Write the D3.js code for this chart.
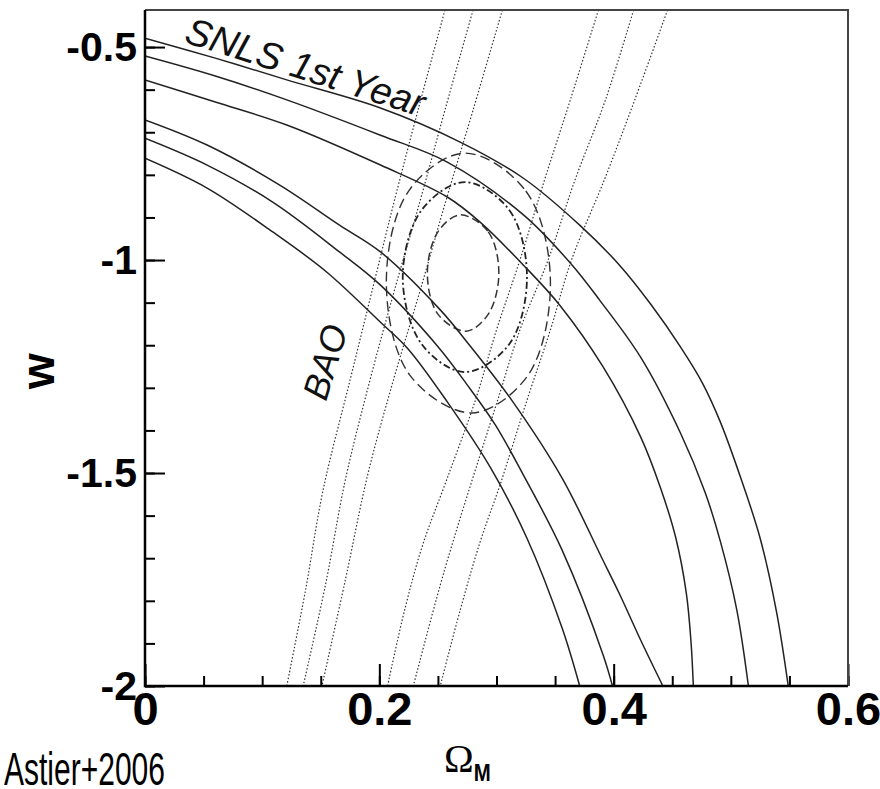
<!DOCTYPE html>
<html>
<head>
<meta charset="utf-8">
<script src="https://cdn.jsdelivr.net/npm/d3@7"></script>
<style>
  body { margin: 0; background: #fff; }
  svg { display: block; }
</style>
</head>
<body>
<script>
// axis ticks and labels
var xTicks = [0, 0.2, 0.4, 0.6];
var xTickLabels = ["0", "0.2", "0.4", "0.6"];
var yTicks = [-2, -1.5, -1, -0.5];
var yTickLabels = ["-2", "-1.5", "-1", "-0.5"];
var xMinorStep = 0.05, yMinorStep = 0.1;

// SNLS 1st year contours [Omega_M, w] (upper and lower branch of each level)
var snls68Hi = [[0,-0.577],[0.060,-0.629],[0.121,-0.683],[0.201,-0.777],[0.258,-0.852],[0.286,-0.911],[0.323,-1.012],[0.354,-1.106],[0.391,-1.251],[0.423,-1.415],[0.440,-1.535],[0.453,-1.652],[0.462,-1.782],[0.466,-1.896],[0.468,-2.0]];
var snls95Hi = [[0,-0.521],[0.060,-0.568],[0.121,-0.624],[0.201,-0.707],[0.258,-0.770],[0.323,-0.894],[0.363,-1.007],[0.388,-1.094],[0.423,-1.228],[0.457,-1.406],[0.478,-1.545],[0.491,-1.660],[0.505,-1.820],[0.515,-2.0]];
var snls99Hi = [[0,-0.479],[0.060,-0.526],[0.121,-0.577],[0.201,-0.643],[0.269,-0.723],[0.323,-0.808],[0.371,-0.918],[0.405,-1.012],[0.432,-1.105],[0.457,-1.204],[0.476,-1.290],[0.491,-1.380],[0.509,-1.516],[0.525,-1.653],[0.539,-1.826],[0.549,-2.0]];
var snls68Lo = [[0,-0.671],[0.053,-0.730],[0.115,-0.824],[0.166,-0.918],[0.201,-0.981],[0.252,-1.117],[0.277,-1.200],[0.314,-1.333],[0.356,-1.512],[0.390,-1.700],[0.405,-1.784],[0.423,-1.892],[0.442,-2.0]];
var snls95Lo = [[0,-0.714],[0.053,-0.777],[0.109,-0.864],[0.166,-0.981],[0.201,-1.059],[0.249,-1.200],[0.275,-1.293],[0.299,-1.387],[0.323,-1.505],[0.356,-1.681],[0.391,-1.927],[0.399,-2.0]];
var snls99Lo = [[0,-0.761],[0.053,-0.831],[0.109,-0.934],[0.155,-1.028],[0.201,-1.146],[0.224,-1.207],[0.258,-1.333],[0.295,-1.488],[0.326,-1.653],[0.356,-1.864],[0.371,-2.0]];

// BAO band edges
var bao68Left  = [[0.305,-0.413],[0.280,-0.648],[0.257,-0.859],[0.235,-1.070],[0.212,-1.282],[0.190,-1.505],[0.171,-1.751],[0.151,-2.0]];
var bao95Left  = [[0.280,-0.413],[0.256,-0.648],[0.235,-0.859],[0.213,-1.070],[0.192,-1.282],[0.171,-1.516],[0.154,-1.763],[0.135,-2.0]];
var bao99Left  = [[0.256,-0.413],[0.233,-0.648],[0.213,-0.859],[0.194,-1.070],[0.175,-1.282],[0.152,-1.540],[0.137,-1.775],[0.121,-2.0]];
var bao68Right = [[0.387,-0.413],[0.363,-0.624],[0.341,-0.812],[0.320,-1.0],[0.300,-1.164],[0.282,-1.329],[0.258,-1.512],[0.237,-1.669],[0.222,-1.817],[0.207,-2.0]];
var bao95Right = [[0.417,-0.413],[0.393,-0.624],[0.367,-0.812],[0.344,-1.0],[0.320,-1.164],[0.301,-1.329],[0.286,-1.458],[0.269,-1.606],[0.252,-1.763],[0.229,-2.0]];
var bao99Right = [[0.446,-0.413],[0.418,-0.624],[0.392,-0.812],[0.364,-1.0],[0.346,-1.164],[0.326,-1.329],[0.303,-1.528],[0.286,-1.662],[0.269,-1.822],[0.252,-2.0]];

// combined SNLS+BAO contours (closed)
var comb68 = [[0.269,-0.894],[0.293,-0.934],[0.302,-1.031],[0.293,-1.127],[0.274,-1.167],[0.250,-1.127],[0.241,-1.031],[0.250,-0.934]];
var comb95 = [[0.273,-0.817],[0.311,-0.883],[0.326,-1.040],[0.311,-1.197],[0.273,-1.263],[0.236,-1.197],[0.220,-1.040],[0.236,-0.883]];
var comb99 = [[0.273,-0.749],[0.325,-0.838],[0.346,-1.047],[0.327,-1.270],[0.279,-1.359],[0.226,-1.270],[0.206,-1.054],[0.225,-0.838]];

var width = 880, height = 789;
var pLeft = 145, pRight = 848, pTop = 10, pBottom = 686;

var svg = d3.select("body").append("svg")
	.attr("width", width)
	.attr("height", height);

var x = d3.scaleLinear().domain([0, 0.6]).range([pLeft, pRight]);
var y = d3.scaleLinear().domain([-2, -0.413]).range([pBottom, pTop]);

svg.append("clipPath").attr("id", "plotclip")
	.append("rect")
	.attr("x", pLeft).attr("y", pTop)
	.attr("width", pRight - pLeft).attr("height", pBottom - pTop);

var plot = svg.append("g").attr("clip-path", "url(#plotclip)");

var line = d3.line()
	.x(function(d){ return x(d[0]); })
	.y(function(d){ return y(d[1]); })
	.curve(d3.curveCatmullRom.alpha(0.5));

var loop = d3.line()
	.x(function(d){ return x(d[0]); })
	.y(function(d){ return y(d[1]); })
	.curve(d3.curveCatmullRomClosed.alpha(0.5));

// BAO - thin dotted
[bao68Left, bao95Left, bao99Left, bao68Right, bao95Right, bao99Right].forEach(function(d){
	plot.append("path")
		.attr("d", line(d))
		.attr("fill", "none")
		.attr("stroke", "#333")
		.attr("stroke-width", 1.2)
		.attr("stroke-dasharray", "1.5,2");
});

// combined contours - dashed
plot.append("path").attr("d", loop(comb68))
	.attr("fill", "none").attr("stroke", "#333").attr("stroke-width", 1.5)
	.attr("stroke-dasharray", "8,4");
plot.append("path").attr("d", loop(comb95))
	.attr("fill", "none").attr("stroke", "#222").attr("stroke-width", 1.8)
	.attr("stroke-dasharray", "7,3,2,3");
plot.append("path").attr("d", loop(comb99))
	.attr("fill", "none").attr("stroke", "#333").attr("stroke-width", 1.4)
	.attr("stroke-dasharray", "10,5");

// SNLS - solid
[snls68Hi, snls95Hi, snls99Hi, snls68Lo, snls95Lo, snls99Lo].forEach(function(d){
	plot.append("path")
		.attr("d", line(d))
		.attr("fill", "none")
		.attr("stroke", "#222")
		.attr("stroke-width", 1.5);
});

// minor ticks
svg.append("g")
	.attr("transform", "translate(0," + pBottom + ")")
	.call(d3.axisBottom(x).tickValues(d3.range(0, 0.6 + 1e-9, xMinorStep)).tickSize(-10).tickFormat(""))
	.call(function(g){ g.select(".domain").remove(); });
svg.append("g")
	.attr("transform", "translate(" + pLeft + ",0)")
	.call(d3.axisLeft(y).tickValues(d3.range(-2, -0.45, yMinorStep)).tickSize(-10).tickFormat(""))
	.call(function(g){ g.select(".domain").remove(); });

// major ticks + labels
var xAxis = svg.append("g")
	.attr("transform", "translate(0," + pBottom + ")")
	.call(d3.axisBottom(x).tickValues(xTicks).tickSizeInner(-22).tickSizeOuter(0).tickPadding(6)
		.tickFormat(function(d, i){ return xTickLabels[i]; }))
	.call(function(g){ g.select(".domain").remove(); });
xAxis.selectAll("text")
	.attr("font-family", "'Liberation Sans', Arial, sans-serif")
	.attr("font-weight", "bold")
	.attr("font-size", 47)
	.attr("fill", "#000");

var yAxis = svg.append("g")
	.attr("transform", "translate(" + pLeft + ",0)")
	.call(d3.axisLeft(y).tickValues(yTicks).tickSizeInner(-20).tickSizeOuter(0).tickPadding(8)
		.tickFormat(function(d, i){ return yTickLabels[i]; }))
	.call(function(g){ g.select(".domain").remove(); });
yAxis.selectAll("text")
	.attr("font-family", "'Liberation Sans', Arial, sans-serif")
	.attr("font-weight", "bold")
	.attr("font-size", 41)
	.attr("fill", "#000");

svg.selectAll(".tick line").attr("stroke", "#000").attr("stroke-width", 2);

// frame
svg.append("path")
	.attr("d", "M" + pLeft + "," + pTop + "H" + pRight + "V" + pBottom)
	.attr("fill", "none").attr("stroke", "#444").attr("stroke-width", 2);
svg.append("path")
	.attr("d", "M" + pLeft + "," + pTop + "V" + pBottom + "H" + pRight)
	.attr("fill", "none").attr("stroke", "#000").attr("stroke-width", 2.5);

// in-plot labels
svg.append("text")
	.attr("transform", "translate(183,42) rotate(17.5)")
	.attr("font-family", "'Liberation Sans', Arial, sans-serif")
	.attr("font-style", "italic")
	.attr("font-size", 38)
	.attr("fill", "#111")
	.text("SNLS 1st Year");

svg.append("text")
	.attr("transform", "translate(326,402) rotate(-73)")
	.attr("font-family", "'Liberation Sans', Arial, sans-serif")
	.attr("font-style", "italic")
	.attr("font-size", 36)
	.attr("fill", "#111")
	.text("BAO");

// axis titles
svg.append("text")
	.attr("transform", "translate(54,371) rotate(-90)")
	.attr("text-anchor", "middle")
	.attr("font-family", "'Liberation Sans', Arial, sans-serif")
	.attr("font-weight", "bold")
	.attr("font-size", 46)
	.text("w");

var om = svg.append("text")
	.attr("x", 444).attr("y", 772)
	.attr("font-family", "'Liberation Serif', 'Times New Roman', serif")
	.attr("font-size", 40)
	.text("\u03A9");
om.append("tspan")
	.attr("dy", 9)
	.attr("font-family", "'Liberation Sans', Arial, sans-serif")
	.attr("font-weight", "bold")
	.attr("font-size", 23)
	.attr("textLength", 17)
	.attr("lengthAdjust", "spacingAndGlyphs")
	.text("M");

svg.append("text")
	.attr("x", 4).attr("y", 785)
	.attr("font-family", "'Liberation Sans', sans-serif")
	.attr("font-size", 47)
	.attr("textLength", 161)
	.attr("lengthAdjust", "spacingAndGlyphs")
	.text("Astier+2006");
</script>
</body>
</html>
